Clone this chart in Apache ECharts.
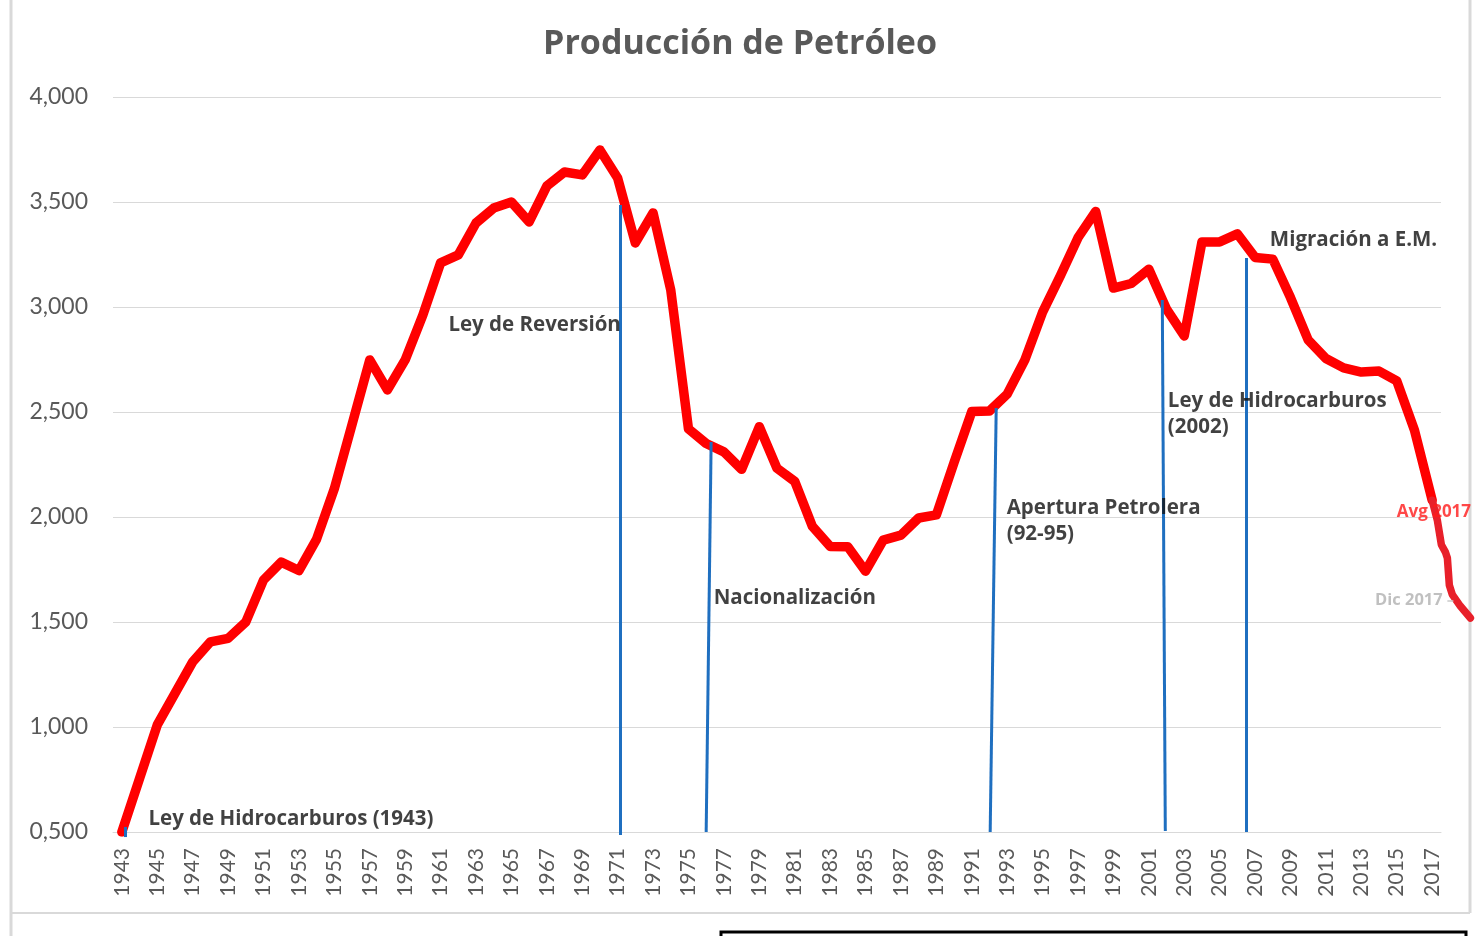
<!DOCTYPE html>
<html>
<head>
<meta charset="utf-8">
<script src="https://cdn.jsdelivr.net/npm/echarts@6/dist/echarts.min.js"></script>
<style>
html,body{margin:0;padding:0;background:#fff;}
#chart{width:1480px;height:936px;}
</style>
</head>
<body>
<div id="chart"></div>
<script>
// ---- data ----
const years = [];
for (let y = 1943; y <= 2017; y++) years.push(String(y));

const production = [
  500, 755, 1010, 1160, 1310, 1405, 1422, 1500, 1700, 1785,
  1745, 1895, 2135, 2440, 2748, 2605, 2748, 2962, 3210, 3248,
  3400, 3471, 3500, 3405, 3576, 3643, 3629, 3748, 3614, 3305,
  3448, 3081, 2420, 2350, 2310, 2227, 2430, 2232, 2170, 1955,
  1860, 1858, 1742, 1890, 1914, 1995, 2010, 2260, 2502, 2505,
  2585, 2748, 2976, 3148, 3330, 3455, 3090, 3112, 3180, 2990,
  2862, 3310, 3310, 3348, 3236, 3228, 3045, 2843, 2755, 2710,
  2690, 2695, 2648, 2414, 2080
];

// 2017 monthly tail (Avg 2017 -> Dic 2017), positions along the year axis
const tailYears  = [2017.0, 2017.29, 2017.52, 2017.75, 2017.86, 2017.97, 2018.14, 2018.59, 2019.16];
const tailValues = [2080, 1986, 1868, 1833, 1805, 1676, 1630, 1576, 1519];

const yTicks = [500, 1000, 1500, 2000, 2500, 3000, 3500, 4000];

// event markers: [top year, top value, bottom year, bottom value]
const eventLines = [
  [1943.17, 524, 1943.17, 476],
  [1971.14, 3486, 1971.14, 486],
  [1976.28, 2357, 1976.0, 500],
  [1992.38, 2519, 1992.04, 500],
  [2001.76, 3033, 2001.93, 505],
  [2006.5, 3233, 2006.5, 500]
];

// small leader next to "Dic 2017"
const dicLeader = [2017.86, 1600, 2018.2, 1600];

// annotation texts
const notes = [
  {text: 'Ley de Hidrocarburos (1943)', x: 1944.53, y: 557, kind: 'event'},
  {text: 'Ley de Reversión', x: 1961.47, y: 2910, kind: 'event'},
  {text: 'Nacionalización', x: 1976.45, y: 1610, kind: 'event'},
  {text: 'Apertura Petrolera\n(92-95)', x: 1993.0, y: 1976, kind: 'event'},
  {text: 'Ley de Hidrocarburos\n(2002)', x: 2002.1, y: 2486, kind: 'event'},
  {text: 'Migración a E.M.', x: 2007.86, y: 3314, kind: 'event'},
  {text: 'Avg 2017', x: 2015.03, y: 2019, kind: 'avg'},
  {text: 'Dic 2017', x: 2013.8, y: 1600, kind: 'dic'}
];

// ---- chart ----
const FONT = 'Lato, "Open Sans", sans-serif';
const BOLD = '"Open Sans", Lato, sans-serif';
const noteStyles = {
  event: {color: '#111111', fontSize: 20.5, fontWeight: 'bold', lineHeight: 26},
  avg:   {color: '#ff1a1a', fontSize: 17, fontWeight: 'bold'},
  dic:   {color: '#b0b0b0', fontSize: 16.5, fontWeight: 'bold'}
};

// layout of the main plot area
const G = {left: 113, right: 39, top: 97, bottom: 104, W: 1480, H: 936};
const plotW = G.W - G.left - G.right;
const plotH = G.H - G.top - G.bottom;
// overlay grid extends to the right edge and a bit lower (same scales)
const ovRight = 0;
const ovMaxYear = 1942.5 + years.length * (G.W - G.left - ovRight) / plotW;
const yMinOv = 400;
const ovBottom = G.bottom - (yTicks[0] - yMinOv) * plotH / (yTicks[yTicks.length - 1] - yTicks[0]);

const chart = echarts.init(document.getElementById('chart'), null, {renderer: 'canvas'});

const option = {
  backgroundColor: '#ffffff',
  animation: false,
  title: {
    text: 'Producción de Petróleo',
    left: 'center',
    top: 22,
    textStyle: {color: '#595959', fontSize: 34, fontWeight: 'bold', fontFamily: BOLD}
  },
  grid: [
    {left: G.left, right: G.right, top: G.top, bottom: G.bottom, containLabel: false},
    {left: G.left, right: ovRight, top: G.top, bottom: ovBottom, containLabel: false}
  ],
  xAxis: [
    {
      type: 'category',
      gridIndex: 0,
      data: years,
      boundaryGap: true,
      axisLine: {show: true, lineStyle: {color: '#d9d9d9', width: 1}},
      axisTick: {show: false},
      axisLabel: {
        interval: 1, rotate: 90, margin: 16,
        color: '#595959', fontSize: 21, fontFamily: FONT
      },
      splitLine: {show: false}
    },
    {type: 'value', gridIndex: 1, min: 1942.5, max: ovMaxYear, show: false}
  ],
  yAxis: [
    {
      type: 'value',
      gridIndex: 0,
      min: yTicks[0], max: yTicks[yTicks.length - 1], interval: 500,
      axisLine: {show: false},
      axisTick: {show: false},
      axisLabel: {
        margin: 25, color: '#595959', fontSize: 23, fontFamily: FONT,
        formatter: v => Math.floor(v / 1000) + ',' + String(v % 1000).padStart(3, '0')
      },
      splitLine: {lineStyle: {color: '#d9d9d9', width: 1}}
    },
    {type: 'value', gridIndex: 1, min: yMinOv, max: yTicks[yTicks.length - 1], show: false}
  ],
  series: [
    {
      name: 'markers',
      type: 'line',
      xAxisIndex: 1, yAxisIndex: 1,
      data: [],
      z: 1,
      markLine: {
        silent: true,
        symbol: ['none', 'none'],
        label: {show: false},
        lineStyle: {color: '#1f6fc0', width: 3, type: 'solid'},
        data: eventLines.map(e => [{coord: [e[0], e[1]]}, {coord: [e[2], e[3]]}])
          .concat([[
            {coord: [dicLeader[0], dicLeader[1]], lineStyle: {color: '#c8c8c8', width: 1.5}},
            {coord: [dicLeader[2], dicLeader[3]]}
          ]])
      }
    },
    {
      name: 'Producción',
      type: 'line',
      xAxisIndex: 0, yAxisIndex: 0,
      data: production,
      symbol: 'none',
      z: 3,
      lineStyle: {color: '#ff0000', width: 9.5, cap: 'round', join: 'round'}
    },
    {
      name: '2017',
      type: 'line',
      xAxisIndex: 1, yAxisIndex: 1,
      data: tailYears.map((x, i) => [x, tailValues[i]]),
      symbol: 'none',
      z: 4,
      lineStyle: {color: '#e8202a', width: 7.5, cap: 'round', join: 'round'}
    },
    {
      name: 'notes',
      type: 'scatter',
      xAxisIndex: 1, yAxisIndex: 1,
      symbolSize: 1,
      itemStyle: {color: 'rgba(0,0,0,0)'},
      z: 5,
      data: notes.map(n => ({
        value: [n.x, n.y],
        label: Object.assign({
          show: true, position: [0, 0], align: 'left', verticalAlign: 'middle',
          fontFamily: BOLD, formatter: n.text
        }, noteStyles[n.kind])
      }))
    }
  ],
  graphic: [
    {type: 'line', shape: {x1: 11, y1: 0, x2: 11, y2: 936}, style: {stroke: '#d9d9d9', lineWidth: 3}, silent: true},
    {type: 'line', shape: {x1: 1470, y1: 0, x2: 1470, y2: 913}, style: {stroke: '#d9d9d9', lineWidth: 3}, silent: true},
    {type: 'line', shape: {x1: 11, y1: 913, x2: 1470, y2: 913}, style: {stroke: '#d9d9d9', lineWidth: 2}, silent: true},
    {type: 'polyline', shape: {points: [[721, 940], [721, 932], [1466, 932], [1466, 940]]}, style: {stroke: '#000', lineWidth: 3, fill: null}, silent: true}
  ]
};
chart.setOption(option);
</script>
</body>
</html>
